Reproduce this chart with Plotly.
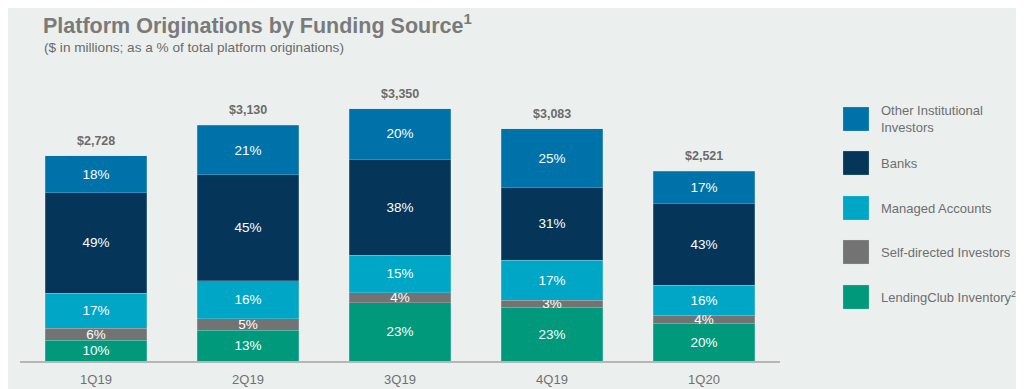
import plotly.graph_objects as go

quarters = ["1Q19", "2Q19", "3Q19", "4Q19", "1Q20"]
totals = [2728, 3130, 3350, 3083, 2521]
total_labels = ["$2,728", "$3,130", "$3,350", "$3,083", "$2,521"]

# percentages per funding source (bottom to top)
lc_inventory = [10, 13, 23, 23, 20]
self_directed = [6, 5, 4, 3, 4]
managed_accounts = [17, 16, 15, 17, 16]
banks = [49, 45, 38, 31, 43]
other_institutional = [18, 21, 20, 25, 17]

series = [
    ("LendingClub Inventory", lc_inventory, "#00997b"),
    ("Self-directed Investors", self_directed, "#737373"),
    ("Managed Accounts", managed_accounts, "#00a6c6"),
    ("Banks", banks, "#05365a"),
    ("Other Institutional Investors", other_institutional, "#0072aa"),
]
legend_labels = [
    "Other Institutional<br>Investors",
    "Banks",
    "Managed Accounts",
    "Self-directed Investors",
    "LendingClub Inventory<sup>2</sup>",
]
legend_colors = ["#0072aa", "#05365a", "#00a6c6", "#737373", "#00997b"]

sums = [sum(s[1][i] for s in series) for i in range(len(quarters))]

# page offset (browser body margin) compensation
OFF = 8
W, H = 1024 - OFF, 389 - OFF
L, T, B = 20 - OFF, 80 - OFF, 28
PW = 760
PH = H - T - B
base = 361 - OFF  # baseline in figure coords


def px(xpage):
    return (xpage - OFF - L) / PW


def py(ypage):
    return (base - (ypage - OFF)) / PH


FONT = "Liberation Sans, Arial"

fig = go.Figure()
for name, pct, color in series:
    vals = [totals[i] * pct[i] / sums[i] for i in range(len(quarters))]
    fig.add_trace(go.Bar(
        x=quarters, y=vals, name=name,
        marker=dict(color=color, line=dict(color="rgba(190,225,225,0.5)", width=0.5)),
        text=[f"{p}%" for p in pct], textposition="inside", insidetextanchor="middle",
        textfont=dict(color="white", size=13.5, family=FONT),
        constraintext="none", cliponaxis=False, showlegend=False,
        hoverinfo="skip",
    ))

for q, t, lab in zip(quarters, totals, total_labels):
    fig.add_annotation(x=q, y=t, text=f"<b>{lab}</b>", showarrow=False,
                       yanchor="bottom", yshift=6,
                       font=dict(size=12.5, color="#6b6b6b", family=FONT))

# legend built manually
legend_y = [119, 163, 208, 252, 297]
for lab, col, yc in zip(legend_labels, legend_colors, legend_y):
    fig.add_shape(type="rect", xref="paper", yref="paper",
                  x0=px(843), x1=px(869), y0=py(yc + 12), y1=py(yc - 12),
                  fillcolor=col, line=dict(width=0.5, color="rgba(190,225,225,0.5)"))
    fig.add_annotation(xref="paper", yref="paper", x=px(879), y=py(yc),
                       text=lab, showarrow=False, xanchor="left", yanchor="middle", align="left",
                       font=dict(size=13, color="#6e6e6e", family=FONT))

fig.add_annotation(xref="paper", yref="paper", x=px(41), y=py(24),
                   text="<b>Platform Originations by Funding Source</b><sup><span style='font-size:15px'><b>1</b></span></sup>",
                   showarrow=False, xanchor="left", yanchor="middle",
                   font=dict(size=21.5, color="#7a7a7a", family=FONT))
fig.add_annotation(xref="paper", yref="paper", x=px(42), y=py(48),
                   text="($ in millions; as a % of total platform originations)",
                   showarrow=False, xanchor="left", yanchor="middle",
                   font=dict(size=13.6, color="#6a6a6a", family=FONT))

fig.update_layout(
    barmode="stack", bargap=0.33,
    width=W, height=H,
    margin=dict(l=L, r=W - L - PW, t=T, b=B, autoexpand=False),
    paper_bgcolor="#ebf0ee", plot_bgcolor="#ebf0ee",
    xaxis=dict(showline=True, linecolor="#b5b5b5", linewidth=1.5,
               ticks="outside", ticklen=6, tickcolor="rgba(0,0,0,0)",
               tickfont=dict(size=13, color="#707070", family=FONT),
               showgrid=False),
    yaxis=dict(range=[0, 3732], visible=False, showgrid=False, zeroline=False),
    uniformtext=dict(minsize=10, mode="show"),
)

fig.write_html("out.html")
